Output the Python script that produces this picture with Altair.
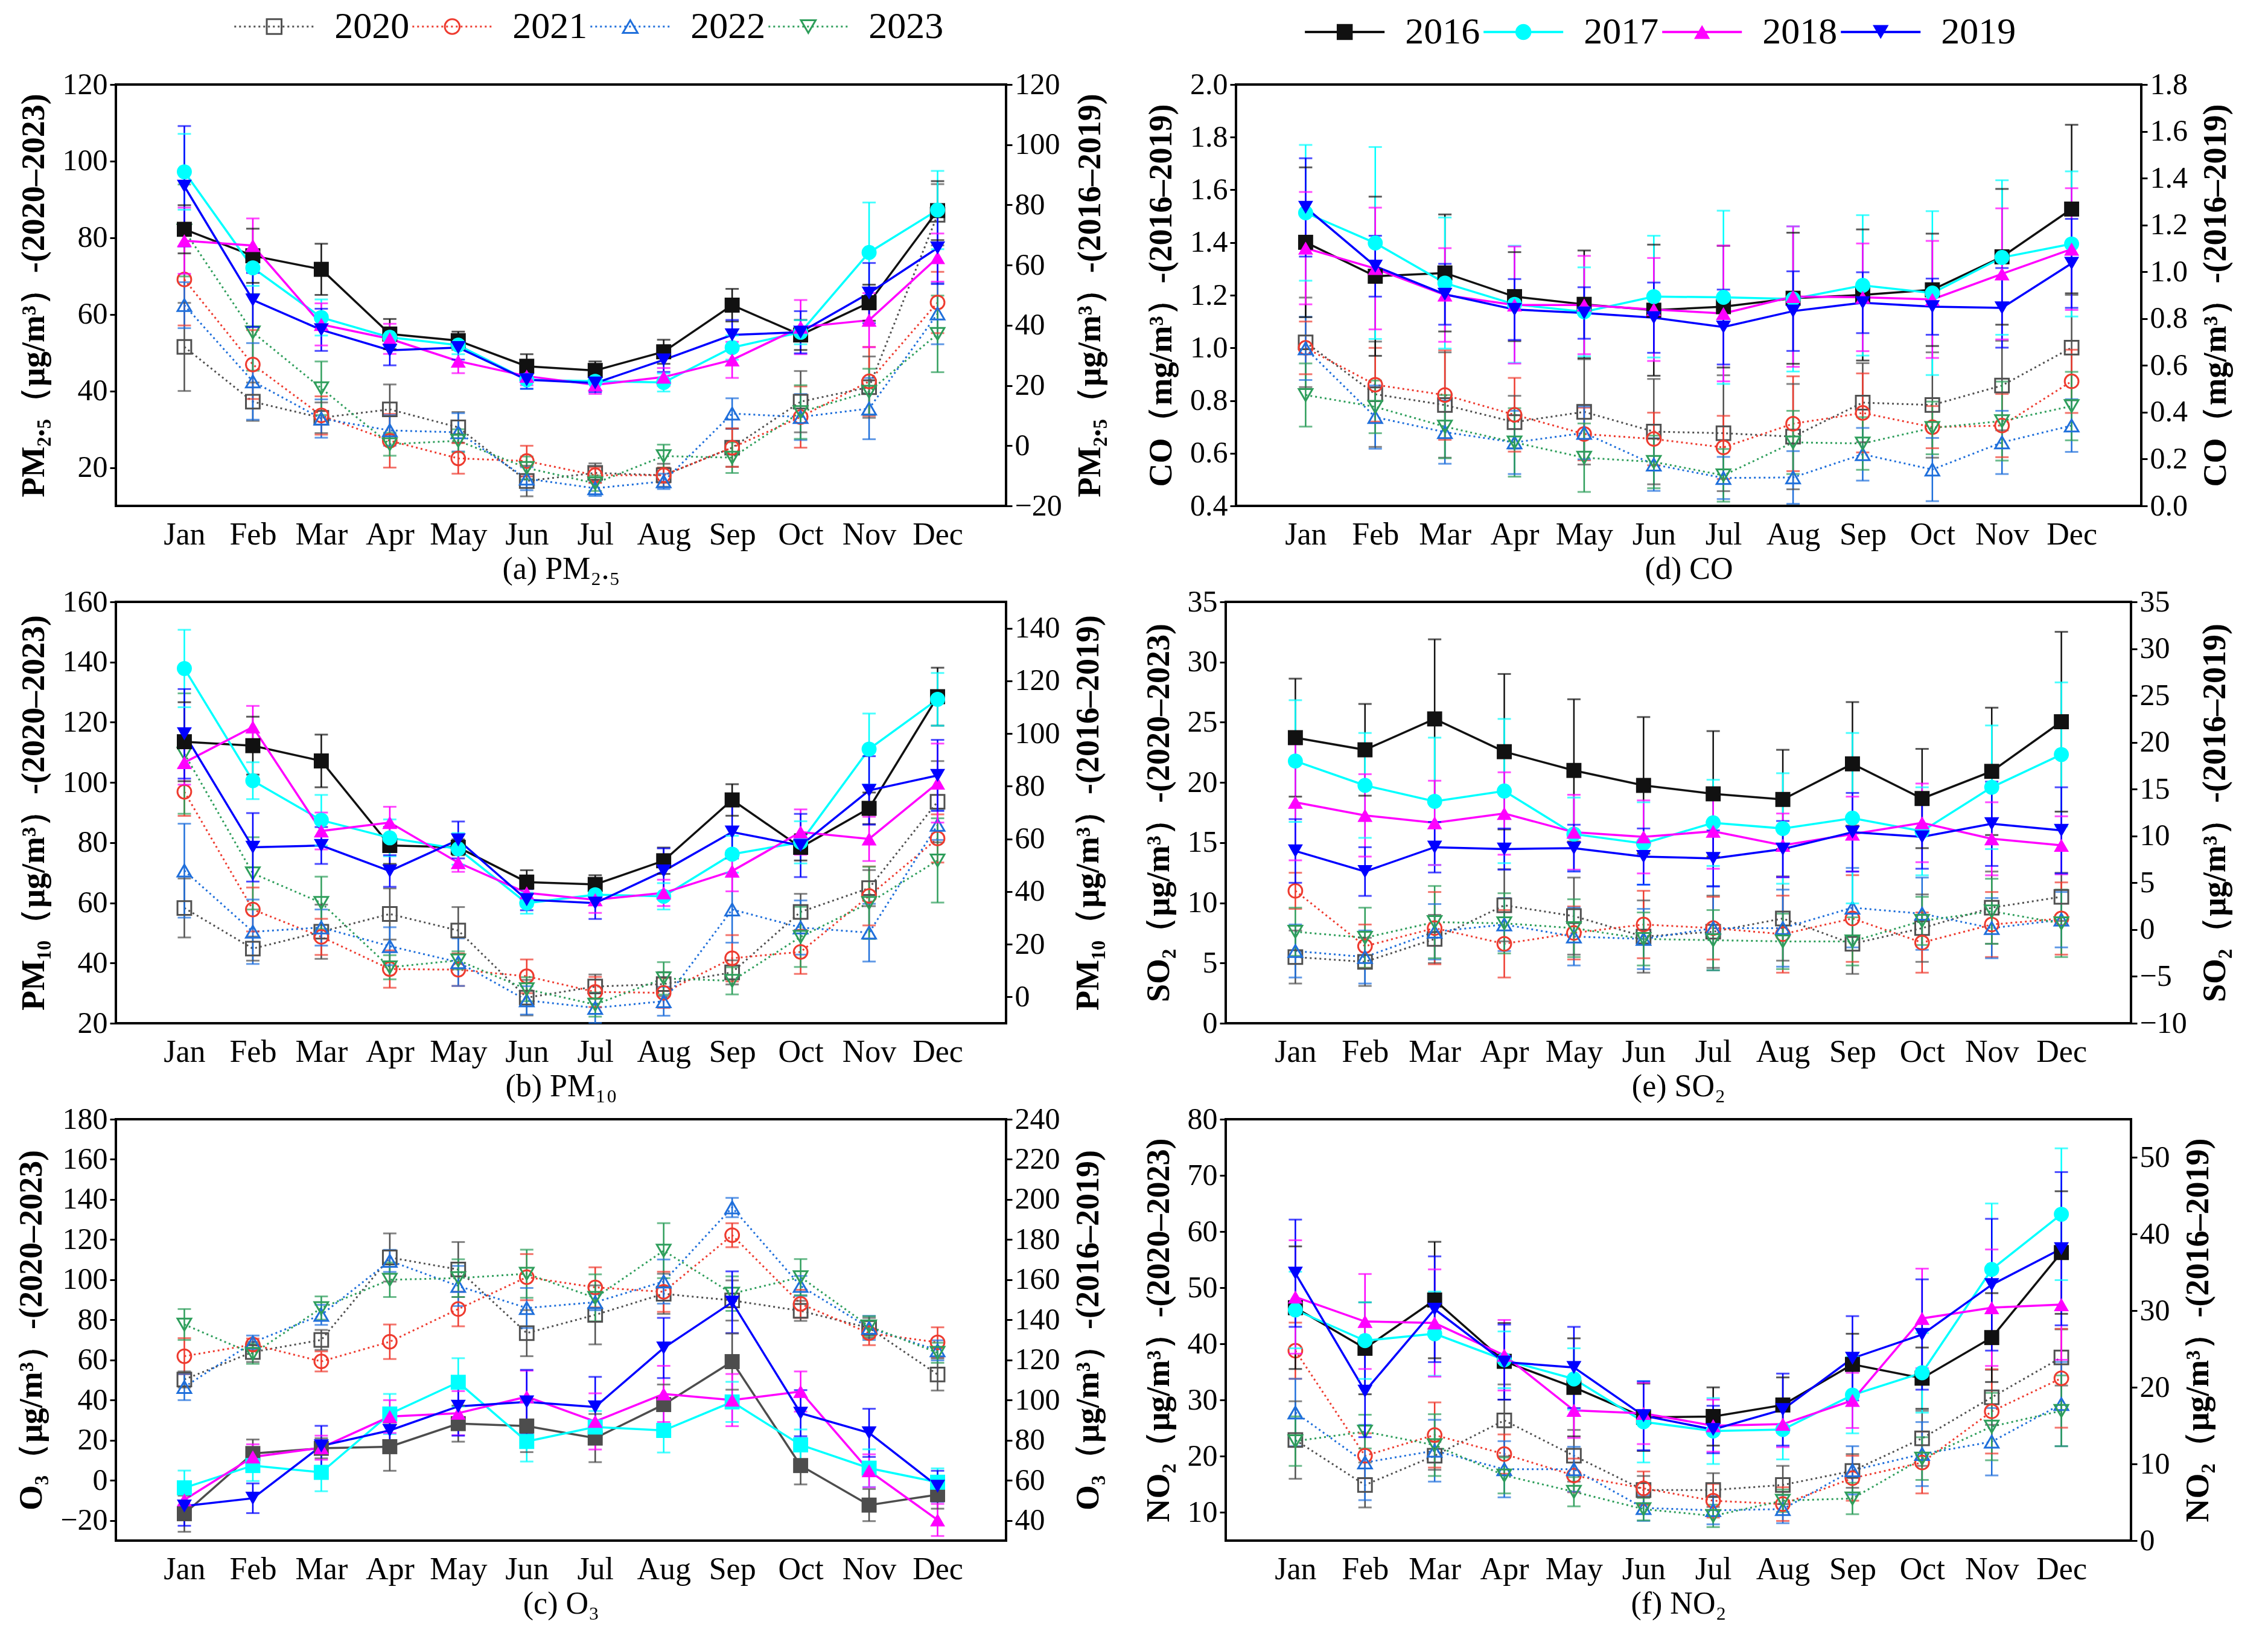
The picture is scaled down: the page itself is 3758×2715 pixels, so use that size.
import altair as alt
import pandas as pd

MONTHS = ["Jan", "Feb", "Mar", "Apr", "May", "Jun", "Jul", "Aug", "Sep", "Oct", "Nov", "Dec"]
OLD_YEARS = ["2016", "2017", "2018", "2019"]
NEW_YEARS = ["2020", "2021", "2022", "2023"]
OLD_COLORS = ["#111111", "#00FFFF", "#FF00FF", "#0000FF"]
O3_OLD_COLORS = ["#4D4D4D", "#00FFFF", "#FF00FF", "#0000FF"]
NEW_COLORS = ["#505050", "#EE3B2F", "#1F6FDB", "#2E9E5B"]
SHAPES = ["square", "circle", "triangle-up", "triangle-down"]
O3_OLD_SHAPES = ["square", "square", "triangle-up", "triangle-down"]

# (a) PM2.5
PM25_OLD = {
    "2016": [71.9, 63.1, 58.6, 37.1, 34.9, 26.4, 25.0, 31.2, 46.7, 36.8, 47.5, 78.1],
    "2017": [91.0, 59.1, 42.6, 36.0, 33.4, 21.9, 21.4, 21.0, 32.6, 37.7, 64.2, 78.3],
    "2018": [68.1, 66.5, 40.3, 35.5, 28.1, 23.1, 20.2, 22.8, 28.5, 39.4, 41.7, 62.5],
    "2019": [86.2, 48.4, 38.5, 31.7, 32.6, 21.9, 20.8, 28.5, 36.8, 37.7, 50.7, 65.7],
}
PM25_OLD_ERR = {
    "2016": [8, 9, 8.5, 5, 3, 4, 3, 4, 5.4, 5, 6, 9.8],
    "2017": [12.6, 6, 6, 3, 3, 3, 3, 3, 4, 4, 16.6, 13],
    "2018": [11, 9, 7, 5, 4, 3, 3, 3, 6, 9, 9, 8],
    "2019": [20, 9, 7, 5, 4, 3, 3, 4, 5, 7, 10, 12],
}
PM25_NEW = {
    "2020": [51.5, 37.2, 33.0, 35.2, 30.5, 16.5, 18.6, 18.0, 25.2, 37.2, 41.0, 86.0],
    "2021": [69.1, 46.9, 33.6, 27.0, 22.4, 21.7, 18.0, 18.0, 25.2, 33.2, 42.5, 63.1],
    "2022": [62.4, 42.5, 32.8, 29.7, 29.2, 17.1, 14.6, 16.4, 34.1, 33.2, 35.4, 60.2],
    "2023": [81.9, 55.3, 40.7, 26.1, 27.0, 19.9, 15.9, 23.0, 22.6, 34.5, 39.8, 54.9],
}
PM25_NEW_ERR = {
    "2020": [11.5, 5, 4, 6.5, 4, 4, 2.5, 3, 5, 8, 8, 8],
    "2021": [12, 9, 5, 7, 4, 4, 2, 2, 5, 8, 9, 8],
    "2022": [6, 10, 5, 4, 5, 3, 2, 2, 4, 6, 8, 8],
    "2023": [12, 10, 7, 3, 3, 3, 2, 3, 4, 7, 6, 10],
}

# (b) PM10
PM10_OLD = {
    "2016": [96.9, 95.4, 89.6, 57.5, 56.8, 43.6, 42.7, 51.7, 74.8, 56.8, 71.6, 114.0],
    "2017": [124.7, 82.1, 67.1, 60.4, 56.2, 35.6, 38.8, 38.2, 54.2, 58.7, 94.1, 113.0],
    "2018": [89.0, 102.5, 63.0, 66.2, 51.0, 39.5, 36.9, 39.5, 47.8, 62.6, 60.0, 81.2],
    "2019": [99.9, 56.8, 57.5, 47.8, 59.6, 36.9, 35.6, 47.8, 62.6, 57.5, 78.4, 84.1],
}
PM10_OLD_ERR = {
    "2016": [15, 11, 10, 7, 3, 4.5, 3.5, 5, 6, 5, 6, 11],
    "2017": [14.7, 7, 9.6, 7, 6, 4, 4, 5, 7, 8, 13.5, 10],
    "2018": [8.4, 8, 7, 6, 3.5, 5, 5, 5, 7.7, 8.6, 8.4, 15],
    "2019": [17, 13, 7, 6, 7, 4, 6, 8.6, 10, 12, 13, 13.5],
}
PM10_NEW = {
    "2020": [58.3, 44.8, 50.4, 56.3, 50.8, 28.5, 32.2, 33.0, 36.9, 57.0, 64.9, 93.6],
    "2021": [96.9, 57.8, 48.7, 38.0, 37.8, 35.6, 30.4, 30.1, 41.6, 43.7, 62.3, 81.4],
    "2022": [70.7, 50.4, 51.8, 45.6, 40.3, 27.6, 25.1, 27.3, 57.8, 51.8, 50.1, 85.9],
    "2023": [109.6, 69.8, 60.0, 38.6, 40.9, 31.3, 26.2, 34.9, 34.1, 48.7, 60.0, 74.1],
}
PM10_NEW_ERR = {
    "2020": [9.8, 4, 9, 8.5, 7.8, 5.9, 4, 4, 4, 6, 6, 13.5],
    "2021": [8, 7.3, 6, 6.2, 5.4, 5.6, 5, 5, 7.7, 7.3, 9.8, 8],
    "2022": [15.6, 10.7, 6, 6.3, 7.9, 4.7, 5, 4.8, 11, 9, 9.6, 5],
    "2023": [20, 12, 8.7, 4, 3, 4, 4, 5.4, 4.5, 10, 12, 14],
}

# (c) O3
O3_OLD = {
    "2016": [43.4, 73.4, 76.0, 76.8, 88.3, 87.1, 81.1, 97.8, 119.2, 67.4, 47.7, 52.9],
    "2017": [56.3, 67.4, 64.0, 93.1, 108.9, 79.4, 86.6, 84.9, 99.1, 77.7, 66.1, 59.1],
    "2018": [50.3, 71.7, 76.3, 91.8, 93.5, 101.7, 89.4, 103.1, 100.0, 104.3, 64.8, 40.3],
    "2019": [47.2, 51.1, 77.2, 84.9, 96.9, 99.1, 96.6, 126.0, 148.8, 93.5, 83.7, 57.1],
}
O3_OLD_ERR = {
    "2016": [9, 7, 5, 12, 9, 13, 12, 10, 14, 9.4, 8, 7],
    "2017": [8.6, 7.7, 9.4, 10, 12, 10, 8, 11, 10, 7.7, 9.4, 6.9],
    "2018": [7, 6.3, 6, 8.2, 11, 13, 14, 14, 13, 10, 8.2, 8],
    "2019": [9.8, 7.4, 10, 11, 14.6, 16, 15, 15, 15.4, 11.5, 12, 7.7],
}
O3_NEW = {
    "2020": [50.3, 64.0, 70.0, 111.1, 105.1, 73.4, 82.5, 93.0, 89.7, 84.5, 76.0, 52.8],
    "2021": [61.9, 67.7, 59.3, 69.1, 85.4, 101.3, 96.2, 94.0, 122.2, 88.0, 73.4, 68.8],
    "2022": [46.5, 68.8, 82.5, 109.4, 96.9, 85.9, 88.8, 99.1, 136.0, 96.9, 76.0, 64.8],
    "2023": [77.7, 63.1, 85.9, 100.0, 100.8, 103.0, 91.0, 114.5, 93.1, 101.3, 76.8, 63.6],
}
O3_NEW_ERR = {
    "2020": [4, 5, 5, 12, 13.7, 11.5, 14.7, 10, 10, 5, 5, 8],
    "2021": [9, 3, 5, 8.6, 8.6, 11.5, 10, 10, 6, 7, 6, 7.5],
    "2022": [6.5, 3.4, 5, 5.5, 10, 10, 4, 11, 4.8, 5, 6, 5],
    "2023": [7.7, 5, 5.8, 8.6, 9.4, 12, 11.7, 13.7, 8.6, 9, 5, 5],
}

# (d) CO
CO_OLD = {
    "2016": [1.126, 0.981, 0.995, 0.894, 0.861, 0.836, 0.851, 0.887, 0.901, 0.923, 1.064, 1.268],
    "2017": [1.252, 1.123, 0.952, 0.861, 0.829, 0.894, 0.891, 0.884, 0.942, 0.909, 1.061, 1.119],
    "2018": [1.101, 1.014, 0.901, 0.858, 0.858, 0.839, 0.822, 0.894, 0.891, 0.882, 0.991, 1.097],
    "2019": [1.275, 1.024, 0.904, 0.839, 0.824, 0.804, 0.764, 0.832, 0.868, 0.851, 0.846, 1.036],
}
CO_OLD_ERR = {
    "2016": [0.32, 0.34, 0.25, 0.19, 0.23, 0.28, 0.26, 0.28, 0.28, 0.24, 0.29, 0.36],
    "2017": [0.29, 0.41, 0.28, 0.25, 0.19, 0.26, 0.37, 0.31, 0.30, 0.35, 0.33, 0.31],
    "2018": [0.24, 0.26, 0.20, 0.25, 0.21, 0.22, 0.29, 0.30, 0.23, 0.25, 0.28, 0.26],
    "2019": [0.21, 0.13, 0.13, 0.13, 0.11, 0.15, 0.16, 0.17, 0.13, 0.12, 0.17, 0.19],
}
CO_NEW = {
    "2020": [1.021, 0.824, 0.783, 0.718, 0.757, 0.682, 0.676, 0.663, 0.792, 0.783, 0.857, 1.001],
    "2021": [1.000, 0.860, 0.821, 0.746, 0.673, 0.654, 0.622, 0.712, 0.753, 0.699, 0.705, 0.873],
    "2022": [0.998, 0.737, 0.680, 0.641, 0.677, 0.557, 0.506, 0.508, 0.596, 0.538, 0.641, 0.705],
    "2023": [0.821, 0.776, 0.701, 0.641, 0.583, 0.567, 0.516, 0.641, 0.637, 0.696, 0.722, 0.779],
}
CO_NEW_ERR = {
    "2020": [0.17, 0.2, 0.2, 0.1, 0.2, 0.2, 0.22, 0.2, 0.15, 0.2, 0.17, 0.2],
    "2021": [0.1, 0.14, 0.17, 0.14, 0.1, 0.1, 0.12, 0.18, 0.15, 0.08, 0.12, 0.12],
    "2022": [0.12, 0.12, 0.12, 0.12, 0.1, 0.1, 0.08, 0.1, 0.1, 0.12, 0.12, 0.1],
    "2023": [0.12, 0.1, 0.12, 0.13, 0.13, 0.1, 0.1, 0.12, 0.1, 0.1, 0.15, 0.13],
}

# (e) SO2
SO2_OLD = {
    "2016": [20.5, 19.2, 22.5, 19.0, 17.0, 15.4, 14.5, 13.9, 17.7, 14.0, 16.9, 22.2],
    "2017": [18.0, 15.4, 13.7, 14.8, 10.2, 9.2, 11.4, 10.8, 11.9, 10.5, 15.2, 18.7],
    "2018": [13.6, 12.2, 11.4, 12.4, 10.4, 9.9, 10.5, 9.0, 10.2, 11.4, 9.7, 9.0],
    "2019": [8.4, 6.2, 8.8, 8.6, 8.7, 7.8, 7.6, 8.6, 10.4, 9.9, 11.3, 10.6],
}
SO2_OLD_ERR = {
    "2016": [6.3, 4.9, 8.5, 8.3, 7.6, 7.3, 6.7, 5.3, 6.6, 5.3, 6.8, 9.6],
    "2017": [6.5, 5.6, 6.8, 7.7, 3.9, 4.4, 4.6, 5.9, 9.1, 4.7, 6.6, 7.7],
    "2018": [6.2, 4.4, 4.5, 4.4, 4.0, 3.9, 4.0, 3.4, 4.0, 4.2, 3.9, 3.1],
    "2019": [3.4, 2.6, 2.7, 2.2, 2.5, 3.0, 3.0, 3.0, 4.2, 3.4, 4.5, 4.6],
}
SO2_NEW = {
    "2020": [5.5, 5.1, 7.0, 9.8, 8.9, 7.2, 7.6, 8.7, 6.6, 7.9, 9.6, 10.5],
    "2021": [11.0, 6.4, 7.9, 6.6, 7.5, 8.2, 7.9, 7.4, 8.7, 6.7, 8.2, 8.7],
    "2022": [6.0, 5.5, 7.6, 8.2, 7.2, 7.0, 7.9, 7.9, 9.6, 9.1, 7.9, 8.6],
    "2023": [7.6, 7.1, 8.4, 8.3, 7.9, 7.0, 6.9, 6.8, 6.8, 8.5, 9.3, 8.3],
}
SO2_NEW_ERR = {
    "2020": [2.2, 2.0, 2.0, 3.0, 3.2, 3.0, 3.0, 3.5, 2.5, 2.8, 3.0, 2.0],
    "2021": [1.5, 1.8, 3.0, 2.8, 2.2, 2.8, 2.6, 3.2, 3.6, 2.5, 2.7, 3.0],
    "2022": [2.2, 2.2, 2.3, 2.2, 2.4, 2.5, 3.5, 3.2, 3.3, 3.0, 2.5, 2.3],
    "2023": [2.0, 2.5, 3.0, 2.5, 2.4, 2.2, 2.5, 2.3, 2.0, 2.0, 2.7, 2.8],
}

# (f) NO2
NO2_OLD = {
    "2016": [30.4, 25.1, 31.4, 23.4, 20.0, 16.1, 16.2, 17.7, 23.0, 21.2, 26.5, 37.6],
    "2017": [30.1, 26.1, 27.0, 23.6, 21.1, 15.5, 14.3, 14.5, 19.0, 21.9, 35.4, 42.6],
    "2018": [31.8, 28.6, 28.4, 24.2, 17.0, 16.6, 15.0, 15.2, 18.3, 29.0, 30.4, 30.8],
    "2019": [34.9, 19.5, 30.2, 23.3, 22.6, 16.3, 14.5, 17.1, 23.8, 26.9, 33.4, 38.1],
}
NO2_OLD_ERR = {
    "2016": [8, 6, 7.6, 5, 6.4, 4.4, 3.8, 3.6, 4, 4, 5.8, 8],
    "2017": [5, 5, 5.5, 3.7, 4, 5.3, 4.3, 3.9, 5, 5.2, 8.6, 8.6],
    "2018": [7.4, 6.2, 7.0, 4.6, 3.6, 4.0, 3.4, 3.0, 3.6, 6.5, 7.6, 7.2],
    "2019": [7.0, 6.0, 6.9, 4.9, 5.3, 4.5, 3.1, 4.7, 5.5, 7.2, 8.6, 10.0],
}
NO2_NEW = {
    "2020": [22.9, 14.9, 20.1, 26.4, 20.1, 14.0, 14.0, 14.9, 17.4, 23.2, 30.5, 37.6],
    "2021": [38.8, 20.1, 23.8, 20.4, 16.6, 14.3, 12.1, 11.5, 16.1, 18.9, 28.0, 33.9],
    "2022": [27.8, 18.9, 21.0, 17.7, 17.7, 10.8, 10.4, 10.6, 17.5, 20.4, 22.6, 29.3],
    "2023": [22.7, 24.4, 22.0, 16.6, 13.7, 10.6, 9.4, 12.1, 12.5, 19.6, 25.3, 28.1],
}
NO2_NEW_ERR = {
    "2020": [6.9, 4, 2.5, 6.4, 4.6, 2.5, 3, 3.4, 3, 4.9, 4.9, 5],
    "2021": [5, 4, 5.8, 3.5, 3, 3, 3, 3, 4, 5.5, 7.5, 8.8],
    "2022": [6, 6.7, 5.5, 5, 4, 2.3, 2.5, 2.5, 4.3, 5.7, 6, 7.5],
    "2023": [4.4, 3, 5.5, 3.2, 2.6, 2, 2, 2, 2.8, 3.8, 6, 6.3],
}

FONT = "Liberation Serif"
LEFT_W = 1475
RIGHT_W = 1500
PANEL_H = 698


def to_df(vals, errs):
    rows = []
    for yr, series in vals.items():
        for m, v, e in zip(MONTHS, series, errs[yr]):
            rows.append({"year": yr, "month": m, "value": v, "lo": v - e, "hi": v + e})
    return pd.DataFrame(rows)


def enc_color(years, colors):
    return alt.Color("year:N", scale=alt.Scale(domain=years, range=colors), legend=None)


def enc_shape(years, shapes):
    return alt.Shape("year:N", scale=alt.Scale(domain=years, range=shapes), legend=None)


def group(df, x, yaxis, ydom, dotted, years, colors, shapes):
    ysc = alt.Scale(domain=ydom, nice=False, zero=False)
    base = alt.Chart(df)
    color = enc_color(years, colors)
    shape = enc_shape(years, shapes)

    def Y(f):
        return alt.Y(f"{f}:Q", scale=ysc, axis=yaxis)

    if dotted:
        line = base.mark_line(strokeDash=[3, 5], strokeWidth=3).encode(x=x, y=Y("value"), color=color)
        pts = base.mark_point(filled=False, size=520, strokeWidth=3, opacity=1).encode(
            x=x, y=Y("value"), color=color, shape=shape)
    else:
        line = base.mark_line(strokeWidth=3.5).encode(x=x, y=Y("value"), color=color)
        pts = base.mark_point(filled=True, size=620, opacity=1).encode(
            x=x, y=Y("value"), color=color, shape=shape)
    rule = base.mark_rule(strokeWidth=2.5).encode(x=x, y=Y("lo"), y2="hi:Q", color=color)
    cap_lo = base.mark_tick(size=22, thickness=3).encode(x=x, y=Y("lo"), color=color)
    cap_hi = base.mark_tick(size=22, thickness=3).encode(x=x, y=Y("hi"), color=color)
    return alt.layer(line, rule, cap_lo, cap_hi, pts)


def panel(new, new_err, old, old_err, ldom, lvals, rdom, rvals, ltitle, rtitle, caption, width, fmt,
          old_colors=OLD_COLORS, old_shapes=SHAPES):
    x = alt.X("month:N", sort=MONTHS, scale=alt.Scale(type="point", padding=1),
              axis=alt.Axis(title=caption, labelAngle=0, ticks=False, domain=False,
                            labelPadding=22, titlePadding=6, labelFontSize=52,
                            titleFontSize=52, titleFontWeight="normal"))
    laxis = alt.Axis(orient="left", values=lvals, format=fmt, title=ltitle, titlePadding=20)
    raxis = alt.Axis(orient="right", values=rvals, format=fmt, title=rtitle, titleAngle=270,
                     titleBaseline="top", titlePadding=20)
    g_new = group(to_df(new, new_err), x, laxis, ldom, True, NEW_YEARS, NEW_COLORS, SHAPES)
    g_old = group(to_df(old, old_err), x, raxis, rdom, False, OLD_YEARS, old_colors, old_shapes)
    return alt.layer(g_new, g_old).resolve_scale(
        y="independent", color="independent", shape="independent"
    ).properties(width=width, height=PANEL_H)


pa = panel(PM25_NEW, PM25_NEW_ERR, PM25_OLD, PM25_OLD_ERR, [10, 120], list(range(20, 121, 20)),
           [-20, 120], list(range(-20, 121, 20)),
           "PM₂.₅（μg/m³）-(2020–2023)", "PM₂.₅（μg/m³）-(2016–2019)", "(a) PM₂.₅", LEFT_W, "d")
pb = panel(PM10_NEW, PM10_NEW_ERR, PM10_OLD, PM10_OLD_ERR, [20, 160], list(range(20, 161, 20)),
           [-10, 150], list(range(0, 141, 20)),
           "PM₁₀（μg/m³）-(2020–2023)", "PM₁₀（μg/m³）-(2016–2019)", "(b) PM₁₀", LEFT_W, "d")
pc = panel(O3_NEW, O3_NEW_ERR, O3_OLD, O3_OLD_ERR, [-30, 180], list(range(-20, 181, 20)),
           [30, 240], list(range(40, 241, 20)),
           "O₃（μg/m³）-(2020–2023)", "O₃（μg/m³）-(2016–2019)", "(c) O₃", LEFT_W, "d",
           old_colors=O3_OLD_COLORS, old_shapes=O3_OLD_SHAPES)
pd_ = panel(CO_NEW, CO_NEW_ERR, CO_OLD, CO_OLD_ERR, [0.4, 2.0], [0.4 + 0.2 * i for i in range(9)],
            [0.0, 1.8], [0.2 * i for i in range(10)],
            "CO（mg/m³）-(2016–2019)", "CO（mg/m³）-(2016–2019)", "(d) CO", RIGHT_W, ".1f")
pe = panel(SO2_NEW, SO2_NEW_ERR, SO2_OLD, SO2_OLD_ERR, [0, 35], list(range(0, 36, 5)),
           [-10, 35], list(range(-10, 36, 5)),
           "SO₂（μg/m³）-(2020–2023)", "SO₂（μg/m³）-(2016–2019)", "(e) SO₂", RIGHT_W, "d")
pf = panel(NO2_NEW, NO2_NEW_ERR, NO2_OLD, NO2_OLD_ERR, [5, 80], list(range(10, 81, 10)),
           [0, 55], list(range(0, 51, 10)),
           "NO₂（μg/m³）-(2020–2023)", "NO₂（μg/m³）-(2016–2019)", "(f) NO₂", RIGHT_W, "d")


def legend_chart(years, colors, dotted, width, height, dom):
    df = pd.DataFrame({"year": years, "idx": list(range(len(years))), "row": ["r"] * len(years)})
    color = enc_color(years, colors)
    shape = enc_shape(years, SHAPES)
    base = alt.Chart(df).encode(
        x=alt.X("idx:Q", scale=alt.Scale(domain=dom, nice=False, zero=False), axis=None),
        y=alt.Y("row:N", scale=alt.Scale(type="point", padding=0.5), axis=None),
    )
    if dotted:
        seg = base.mark_rule(xOffset=-66, x2Offset=66, strokeDash=[3, 5], strokeWidth=3).encode(
            x2="idx:Q", color=color)
        sym = base.mark_point(filled=False, size=600, strokeWidth=3, opacity=1).encode(color=color, shape=shape)
    else:
        seg = base.mark_rule(xOffset=-66, x2Offset=66, strokeWidth=4).encode(x2="idx:Q", color=color)
        sym = base.mark_point(filled=True, size=700, opacity=1).encode(color=color, shape=shape)
    txt = base.mark_text(align="left", baseline="middle", dx=100, fontSize=62, font=FONT,
                         color="black").encode(text="year:N")
    return alt.layer(seg, sym, txt).resolve_scale(color="independent", shape="independent").properties(
        width=width, height=height, view=alt.ViewBackground(strokeOpacity=0))


leg_row = alt.hconcat(legend_chart(NEW_YEARS, NEW_COLORS, True, 1776, 62, [-0.889, 5.131]),
                      legend_chart(OLD_YEARS, OLD_COLORS, False, 1569, 80, [-0.541, 4.759]),
                      spacing=100)

rows = alt.vconcat(
    alt.hconcat(pa, pd_, spacing=59),
    alt.hconcat(pb, pe, spacing=59),
    alt.hconcat(pc, pf, spacing=59),
    spacing=0,
)

chart = alt.vconcat(leg_row, rows, spacing=20).properties(
    padding={"left": 15, "right": 5, "top": 5, "bottom": 5}
).configure(font=FONT).configure_view(
    stroke="black", strokeWidth=4
).configure_axis(
    labelFont=FONT, titleFont=FONT, labelFontSize=50, titleFontSize=54, titleFontWeight="bold",
    labelColor="black", titleColor="black", domainColor="black", tickColor="black",
    domainWidth=3, tickWidth=3, tickSize=10, labelPadding=4, grid=False,
)

chart.save("out.html", embed_options={"renderer": "svg", "actions": False})
